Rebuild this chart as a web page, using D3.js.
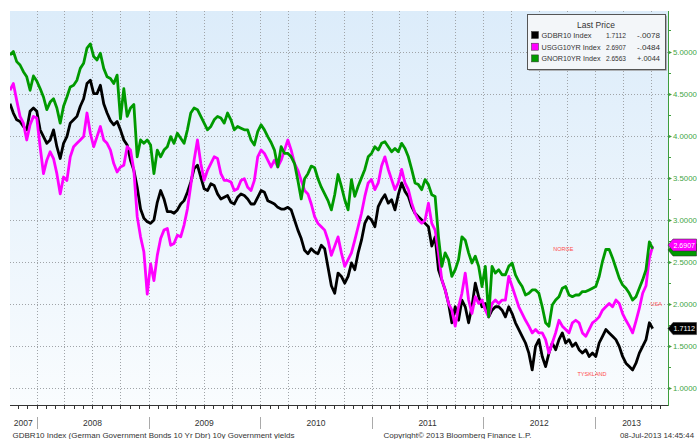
<!DOCTYPE html>
<meta charset="utf-8">
<html>
<head>
  <script src="https://d3js.org/d3.v7.min.js"></script>
  <style>
    body { margin: 0; background: #fff; }
    svg text { font-family: "Liberation Sans", Arial, sans-serif; }
  </style>
</head>
<body>
<svg width="697" height="439"></svg>
<script>
// 10y government yields, roughly every 11 days, 2007-10-06 .. 2013-07-08
const gdbr10 = [
  4.38, 4.27, 4.19, 4.17, 4.11, 4.07, 4.29, 4.33, 4.29, 4.07,
  3.99, 3.91, 3.95, 4.07, 3.87, 3.73, 3.91, 3.99, 4.15, 4.19,
  4.23, 4.35, 4.44, 4.62, 4.66, 4.50, 4.50, 4.60, 4.38, 4.27,
  4.18, 4.13, 4.17, 4.07, 3.95, 3.89, 3.71, 3.59, 3.39, 3.13,
  3.02, 2.98, 2.96, 3.00, 3.21, 3.35, 3.25, 3.10, 3.10, 3.08,
  3.12, 3.19, 3.23, 3.33, 3.45, 3.61, 3.65, 3.51, 3.37, 3.35,
  3.43, 3.41, 3.31, 3.25, 3.27, 3.29, 3.21, 3.19, 3.27, 3.31,
  3.29, 3.25, 3.19, 3.19, 3.27, 3.35, 3.33, 3.23, 3.21, 3.19,
  3.15, 3.13, 3.13, 3.15, 3.12, 3.00, 2.88, 2.78, 2.64, 2.60,
  2.66, 2.62, 2.60, 2.70, 2.66, 2.44, 2.22,
  2.13, 2.37, 2.33, 2.25, 2.33, 2.49, 2.41, 2.61, 2.76, 2.96,
  3.04, 3.00, 2.92, 3.16, 3.24, 3.30, 3.20, 3.24, 3.12, 3.30,
  3.44, 3.34, 3.28, 3.16, 3.08, 3.04, 3.00, 2.96, 2.92, 2.69,
  2.80, 2.41, 2.29, 2.17, 2.01, 1.78, 1.97, 1.81, 2.05, 1.97,
  1.78, 1.97, 2.25, 2.09, 1.97, 2.01, 1.85, 1.93, 1.97, 1.97,
  1.93, 1.85, 1.97, 1.89, 1.78, 1.70, 1.62, 1.54, 1.42, 1.22,
  1.50, 1.58, 1.38, 1.26, 1.42, 1.54, 1.46, 1.58, 1.66, 1.54,
  1.58, 1.50, 1.54, 1.46, 1.42, 1.46, 1.38, 1.42, 1.38, 1.54,
  1.62, 1.70, 1.66, 1.62, 1.58, 1.50, 1.38, 1.30, 1.26, 1.22,
  1.30, 1.42, 1.50, 1.58, 1.78, 1.7112
];
const usgg10yr = [
  4.54, 4.62, 4.42, 4.23, 4.15, 3.95, 4.13, 4.23, 4.21, 3.87,
  3.55, 3.71, 3.81, 3.73, 3.55, 3.31, 3.51, 3.47, 3.75, 3.87,
  3.91, 3.95, 3.99, 4.27, 4.03, 3.87, 3.99, 4.11, 3.95, 3.91,
  3.83, 3.67, 3.57, 3.63, 3.65, 3.87, 3.83, 3.59, 3.04, 2.80,
  2.62, 2.12, 2.48, 2.28, 2.58, 2.78, 2.88, 2.90, 2.70, 2.72,
  2.82, 2.80, 2.94, 3.13, 3.41, 3.71, 3.95, 3.67, 3.47, 3.59,
  3.67, 3.75, 3.73, 3.55, 3.47, 3.47, 3.45, 3.35, 3.37, 3.47,
  3.49, 3.39, 3.35, 3.47, 3.75, 3.83, 3.79, 3.71, 3.63, 3.71,
  3.63, 3.71, 3.83, 3.95, 3.83, 3.67, 3.59, 3.47, 3.35, 3.31,
  3.19, 3.04, 2.96, 2.92, 2.88, 2.76, 2.58,
  2.69, 2.80, 2.61, 2.45, 2.53, 2.61, 2.76, 2.92, 3.08, 3.28,
  3.44, 3.48, 3.36, 3.44, 3.64, 3.75, 3.60, 3.48, 3.36, 3.44,
  3.60, 3.44, 3.36, 3.20, 3.08, 3.00, 2.96, 3.00, 3.20, 2.96,
  2.88, 2.61, 2.29, 2.17, 2.01, 1.93, 1.74, 1.97, 2.13, 2.37,
  2.05, 1.89, 2.09, 2.01, 2.05, 1.93, 1.85, 2.01, 2.05, 2.01,
  2.05, 2.05, 2.33, 2.21, 2.09, 1.97, 1.89, 1.81, 1.74, 1.66,
  1.70, 1.66, 1.66, 1.58, 1.42, 1.54, 1.66, 1.81, 1.74, 1.70,
  1.66, 1.78, 1.81, 1.78, 1.66, 1.62, 1.70, 1.78, 1.81, 1.85,
  1.93, 1.97, 2.01, 1.97, 2.05, 2.01, 1.89, 1.81, 1.74, 1.66,
  1.80, 1.95, 2.13, 2.22, 2.55, 2.6907
];
const gnor10yr = [
  4.96, 5.00, 4.88, 4.84, 4.76, 4.70, 4.54, 4.71, 4.65, 4.56,
  4.46, 4.31, 4.40, 4.44, 4.33, 4.15, 4.35, 4.46, 4.58, 4.60,
  4.66, 4.80, 4.86, 5.04, 5.09, 4.94, 4.90, 4.98, 4.80, 4.70,
  4.68, 4.62, 4.72, 4.20, 4.56, 4.23, 4.33, 4.37, 3.75, 3.95,
  3.91, 3.95, 3.89, 3.55, 3.83, 3.75, 3.83, 3.87, 3.99, 3.91,
  4.03, 3.97, 3.91, 4.07, 4.27, 4.33, 4.31, 4.23, 4.15, 4.07,
  4.11, 4.19, 4.23, 4.21, 4.15, 4.27, 4.19, 4.07, 4.11, 4.09,
  4.07, 4.07, 3.95, 3.89, 4.05, 4.13, 4.07, 3.99, 3.92, 3.83,
  3.63, 3.87, 3.79, 3.79, 3.75, 3.67, 3.47, 3.25, 3.49, 3.55,
  3.64, 3.62, 3.49, 3.39, 3.31, 3.23, 3.12,
  3.30, 3.54, 3.40, 3.24, 3.12, 3.48, 3.28, 3.40, 3.50, 3.60,
  3.75, 3.79, 3.87, 3.83, 3.91, 3.93, 3.87, 3.81, 3.85, 3.81,
  3.91, 3.85, 3.75, 3.60, 3.44, 3.42, 3.36, 3.48, 3.42, 3.30,
  3.28, 2.80, 2.45, 2.61, 2.53, 2.33, 2.41, 2.53, 2.80, 2.76,
  2.61, 2.49, 2.57, 2.45, 2.21, 2.45, 1.85, 2.45, 2.37, 2.41,
  2.35, 2.35, 2.45, 2.49, 2.35, 2.27, 2.21, 2.11, 2.13, 2.17,
  2.17, 2.13, 1.97, 1.78, 1.74, 1.99, 2.05, 2.09, 2.19, 2.21,
  2.11, 2.09, 2.11, 2.11, 2.15, 2.15, 2.17, 2.19, 2.21, 2.33,
  2.51, 2.65, 2.65, 2.55, 2.43, 2.31, 2.23, 2.19, 2.13, 2.05,
  2.09, 2.19, 2.29, 2.41, 2.74, 2.6563
];

const yTicks = [1.0, 1.5, 2.0, 2.5, 3.0, 3.5, 4.0, 4.5, 5.0];
const yMinorTicks = [1.25, 1.75, 2.25, 2.75, 3.25, 3.75, 4.25, 4.75, 5.25];
const years = [2007, 2008, 2009, 2010, 2011, 2012, 2013];
const legendNames = ["GDBR10 Index", "USGG10YR Index", "GNOR10YR Index"];
const legendLast = ["1.7112", "2.6907", "2.6563"];
const legendChange = ["-.0078", "-.0484", "+.0044"];
const seriesColors = ["#000000", "#ff00ff", "#009a00"];
const countryNotes = ["NORGE", "USA", "TYSKLAND"];

const firstDate = new Date(2007, 9, 6), lastDate = new Date(2013, 6, 8);
const step = (lastDate - firstDate) / (gdbr10.length - 1);
const dates = gdbr10.map((_, i) => new Date(+firstDate + i * step));

const L = 10, R = 668, T = 11, B = 405;
const svg = d3.select("svg");

const x = d3.scaleTime()
    .domain([new Date(2007, 9, 6), new Date(2013, 7, 27)])
    .range([L, R]);
const y = d3.scaleLinear()
    .domain([0.804, 5.481])
    .range([B, T]);

const defs = svg.append("defs");
const grad = defs.append("linearGradient")
    .attr("id", "bg").attr("x1", 0).attr("y1", 0).attr("x2", 0).attr("y2", 1);
grad.append("stop").attr("offset", "0%").attr("stop-color", "#dcecfa");
grad.append("stop").attr("offset", "100%").attr("stop-color", "#f9fcfe");
defs.append("clipPath").attr("id", "plot")
  .append("rect").attr("x", L).attr("y", T).attr("width", R - L).attr("height", B - T);

svg.append("rect").attr("width", 697).attr("height", 439).attr("fill", "#fff");
svg.append("rect")
    .attr("x", L).attr("y", T).attr("width", R - L).attr("height", B - T)
    .attr("fill", "url(#bg)");

// grid
const grid = svg.append("g")
    .attr("stroke", "#a0a4a8").attr("stroke-width", 1).attr("stroke-dasharray", "1,2");
grid.selectAll(".h").data(yTicks).enter().append("line")
    .attr("x1", L).attr("x2", R)
    .attr("y1", d => Math.round(y(d)) + 0.5).attr("y2", d => Math.round(y(d)) + 0.5);
grid.selectAll(".v").data(d3.timeMonth.every(3).range(x.domain()[0], x.domain()[1])).enter().append("line")
    .attr("y1", T).attr("y2", B)
    .attr("x1", d => Math.round(x(d)) + 0.5).attr("x2", d => Math.round(x(d)) + 0.5);

// series
const line = d3.line().x((d, i) => x(dates[i])).y(d => y(d));
const plot = svg.append("g").attr("clip-path", "url(#plot)");
[gdbr10, usgg10yr, gnor10yr].forEach((vals, k) => {
  plot.append("path")
      .datum(vals)
      .attr("d", line)
      .attr("fill", "none")
      .attr("stroke", seriesColors[k])
      .attr("stroke-width", 2.8)
      .attr("stroke-linejoin", "round");
});

// bottom axis
svg.append("line")
    .attr("x1", L).attr("x2", R).attr("y1", B + 0.5).attr("y2", B + 0.5)
    .attr("stroke", "#333");
svg.append("g").selectAll("line")
    .data(d3.timeMonth.range(x.domain()[0], x.domain()[1]))
    .enter().append("line")
    .attr("x1", d => Math.round(x(d)) + 0.5).attr("x2", d => Math.round(x(d)) + 0.5)
    .attr("y1", B).attr("y2", B + 4)
    .attr("stroke", "#333");

const yearG = svg.append("g");
years.forEach(yr => {
  const a = Math.max(x(new Date(yr, 0, 1)), L);
  const b = Math.min(x(new Date(yr + 1, 0, 1)), R);
  if (yr > years[0]) {
    yearG.append("line")
        .attr("x1", Math.round(a) + 0.5).attr("x2", Math.round(a) + 0.5)
        .attr("y1", 417).attr("y2", 429)
        .attr("stroke", "#aaa");
  }
  yearG.append("text")
      .attr("x", (a + b) / 2).attr("y", 426)
      .attr("text-anchor", "middle")
      .attr("font-size", "8.5px").attr("fill", "#333")
      .text(yr);
});

// right axis
const axisGreen = "#3d9e3d";
svg.append("line")
    .attr("x1", R + 0.5).attr("x2", R + 0.5).attr("y1", T).attr("y2", B + 1)
    .attr("stroke", axisGreen);
svg.append("g").selectAll("line").data(yMinorTicks).enter().append("line")
    .attr("x1", R).attr("x2", R + 3)
    .attr("y1", d => Math.round(y(d)) + 0.5).attr("y2", d => Math.round(y(d)) + 0.5)
    .attr("stroke", axisGreen);
const yt = svg.append("g").selectAll("g").data(yTicks).enter().append("g")
    .attr("transform", d => `translate(${R},${Math.round(y(d)) + 0.5})`);
yt.append("path").attr("d", "M0,-2L4,0L0,2Z").attr("fill", axisGreen);
yt.append("text")
    .attr("x", 5).attr("dy", "0.35em")
    .attr("font-size", "7.8px").attr("fill", "#44a544")
    .text(d => d.toFixed(4));

// last price tags
function tag(cy, fill, label) {
  const g = svg.append("g").attr("transform", `translate(${R},${cy})`);
  g.append("path")
      .attr("d", "M0,0L5,-6L28.5,-6L28.5,6L5,6Z")
      .attr("fill", fill).attr("stroke", "#333").attr("stroke-width", 0.6);
  if (label) {
    g.append("text").attr("x", 5.5).attr("dy", "0.35em")
        .attr("textLength", 21.5).attr("lengthAdjust", "spacingAndGlyphs")
        .attr("font-size", "8px").attr("fill", "#fff").text(label);
  }
}
tag(y(+legendLast[2]) + 1, seriesColors[2], null);
tag(y(+legendLast[1]) - 1, seriesColors[1], legendLast[1]);
tag(y(+legendLast[0]), seriesColors[0], legendLast[0]);

// country notes
const noteVals = [2.65, 2.0, 1.17];
const noteDates = [new Date(2012, 7, 17), new Date(2013, 6, 1), new Date(2012, 10, 4)];
svg.append("g").selectAll("text").data(countryNotes).enter().append("text")
    .attr("x", (d, i) => x(noteDates[i]))
    .attr("y", (d, i) => y(noteVals[i]))
    .attr("dy", "0.35em")
    .attr("font-size", "5.5px").attr("fill", "#ff4a4a")
    .text(d => d);

// legend
const nameWidths = [50, 59, 59];
const lg = svg.append("g");
lg.append("rect").attr("x", 527.5).attr("y", 14.5).attr("width", 138).attr("height", 55)
    .attr("fill", "#999").attr("transform", "translate(1.2,1.2)");
lg.append("rect").attr("x", 527.5).attr("y", 14.5).attr("width", 138).attr("height", 55)
    .attr("fill", "#f3f6f9").attr("stroke", "#555");
lg.append("text").attr("x", 596).attr("y", 28).attr("text-anchor", "middle")
    .attr("font-size", "8.5px").attr("fill", "#333").text("Last Price");
legendNames.forEach((name, i) => {
  const cy = 35 + i * 11.7;
  lg.append("rect").attr("x", 531.5).attr("y", cy - 3.5).attr("width", 7).attr("height", 7)
      .attr("fill", seriesColors[i]).attr("stroke", "#333").attr("stroke-width", 0.5);
  lg.append("text").attr("x", 541.5).attr("y", cy).attr("dy", "0.35em")
      .attr("textLength", nameWidths[i]).attr("lengthAdjust", "spacingAndGlyphs")
      .attr("font-size", "8px").attr("fill", "#333").text(name);
  lg.append("text").attr("x", 606).attr("y", cy).attr("dy", "0.35em")
      .attr("textLength", 20).attr("lengthAdjust", "spacingAndGlyphs")
      .attr("font-size", "8px").attr("fill", "#333").text(legendLast[i]);
  lg.append("text").attr("x", 637).attr("y", cy).attr("dy", "0.35em")
      .attr("textLength", 23).attr("lengthAdjust", "spacingAndGlyphs")
      .attr("font-size", "8px").attr("fill", "#333").text(legendChange[i]);
});

// footer
const foot = svg.append("g").attr("font-size", "8px").attr("fill", "#333");
foot.append("text").attr("x", 12.5).attr("y", 438)
    .attr("textLength", 282).attr("lengthAdjust", "spacingAndGlyphs")
    .text("GDBR10 Index (German Government Bonds 10 Yr Dbr) 10y Government yields");
foot.append("text").attr("x", 383.5).attr("y", 438)
    .attr("textLength", 148).attr("lengthAdjust", "spacingAndGlyphs")
    .text("Copyright\u00a9 2013 Bloomberg Finance L.P.");
foot.append("text").attr("x", 620).attr("y", 438)
    .attr("textLength", 74).attr("lengthAdjust", "spacingAndGlyphs")
    .text("08-Jul-2013 14:45:44");
</script>
</body>
</html>
